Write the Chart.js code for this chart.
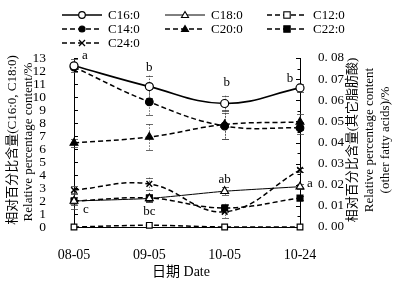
<!DOCTYPE html>
<html><head><meta charset="utf-8">
<script src="https://cdn.jsdelivr.net/npm/chart.js@4/dist/chart.umd.min.js"></script>
<style>
html,body{margin:0;padding:0;background:#fff;}
#wrap{position:relative;width:405px;height:285px;overflow:hidden;font-family:"Liberation Serif","Noto Sans CJK SC",serif;color:#000;}
#c{position:absolute;left:0;top:0;}
.lgi{position:absolute;height:14px;}
.lgi svg{position:absolute;left:0;top:0;}
.lgi span{position:absolute;top:-1px;font-size:13px;line-height:16px;white-space:nowrap;}
</style></head>
<body><div id="wrap"><canvas id="c" width="405" height="285"></canvas><div id="legend"></div></div>
<script>
// ---- data ----
const dates = ['08-05', '09-05', '10-05', '10-24'];
const c16 = [12.4, 10.8, 9.5, 10.7];
const c18 = [2.0, 2.2, 2.75, 3.1];
const c12 = [0.0, 0.0008, 0.0, 0.0];
const c14 = [0.0757, 0.0592, 0.0478, 0.0469];
const c20 = [0.0398, 0.0426, 0.0485, 0.0497];
const c22 = [0.0123, 0.0137, 0.0090, 0.0137];
const c24 = [0.0175, 0.0204, 0.0072, 0.0270];
// error amounts
const c16Err = [0.5, 0.85, 0.6, 0.3];
const c18Err = [0.3, 0.3, 0.3, 0.2];
const c12Err = [0, 0, 0, 0];
const c14Err = [0.001, 0.006, 0.006, 0.003];
const c20Err = [0.002, 0.006, 0.007, 0.004];
const c22Err = [0.004, 0.002, 0.002, 0.001];
const c24Err = [0.002, 0.003, 0.003, 0.001];
// significance letters
const c16Sig = ['a', 'b', 'b', 'b'];
const c18Sig = ['c', 'bc', 'ab', 'a'];
const leftTicks = [0, 1, 2, 3, 4, 5, 6, 7, 8, 9, 10, 11, 12, 13];
const rightTicks = [0, 0.01, 0.02, 0.03, 0.04, 0.05, 0.06, 0.07, 0.08];

// ---- styles (not data) ----
const sigOffC16 = [[11, -10], [0, -19], [2, -21], [-10, -9]];
const sigOffC18 = [[12, 9], [0, 13], [0, -12], [10, -3]];
const F = '"Liberation Serif","Noto Sans CJK SC",serif';

function ds(label, data, err, axis, o) {
  return Object.assign({
    label, data, err, yAxisID: axis,
    borderColor: '#000', backgroundColor: '#000',
    pointBorderColor: '#000', pointBorderWidth: 1.2,
    borderWidth: 1.5, tension: 0.4, clip: false, fill: false
  }, o);
}
const datasets = [
  ds('C16:0', c16, c16Err, 'y', {pointStyle: 'circle', pointRadius: 4, pointBackgroundColor: '#fff', borderWidth: 1.6}),
  ds('C18:0', c18, c18Err, 'y', {pointStyle: 'triangle', pointRadius: 4.5, pointBackgroundColor: '#fff', borderWidth: 1, tension: 0.2}),
  ds('C12:0', c12, c12Err, 'y1', {pointStyle: 'rect', pointRadius: 4, pointBackgroundColor: '#fff', borderDash: [5, 3]}),
  ds('C14:0', c14, c14Err, 'y1', {pointStyle: 'circle', pointRadius: 3.8, pointBackgroundColor: '#000', borderDash: [5, 3]}),
  ds('C20:0', c20, c20Err, 'y1', {pointStyle: 'triangle', pointRadius: 4.5, pointBackgroundColor: '#000', borderDash: [5, 3]}),
  ds('C22:0', c22, c22Err, 'y1', {pointStyle: 'rect', pointRadius: 4.2, pointBackgroundColor: '#000', borderDash: [5, 3]}),
  ds('C24:0', c24, c24Err, 'y1', {pointStyle: 'crossRot', pointRadius: 4, pointBorderWidth: 1.5, borderDash: [5, 3]})
];

const decor = {
  id: 'decor',
  beforeDatasetsDraw(chart) {
    const ctx = chart.ctx, xs = chart.scales.x;
    ctx.save();
    ctx.strokeStyle = '#444'; ctx.lineWidth = 0.8;
    chart.data.datasets.forEach(d => {
      const s = chart.scales[d.yAxisID];
      d.data.forEach((v, i) => {
        const e = d.err[i]; if (!e) return;
        const x = Math.round(xs.getPixelForValue(i)) + 0.5;
        const t = s.getPixelForValue(v + e), b = s.getPixelForValue(v - e);
        ctx.setLineDash([1.5, 1.5]);
        ctx.beginPath(); ctx.moveTo(x, t); ctx.lineTo(x, b); ctx.stroke();
        ctx.setLineDash([]);
        ctx.beginPath();
        ctx.moveTo(x - 3.5, Math.round(t) + 0.5); ctx.lineTo(x + 3.5, Math.round(t) + 0.5);
        ctx.moveTo(x - 3.5, Math.round(b) + 0.5); ctx.lineTo(x + 3.5, Math.round(b) + 0.5);
        ctx.stroke();
      });
    });
    // inward ticks
    const a = chart.chartArea, yl = chart.scales.y, yr = chart.scales.y1;
    ctx.strokeStyle = '#000'; ctx.lineWidth = 1;
    ctx.beginPath();
    leftTicks.forEach(v => { const y = Math.round(yl.getPixelForValue(v)) + 0.5; ctx.moveTo(a.left, y); ctx.lineTo(a.left + 4, y); });
    rightTicks.forEach((v, i) => {
      const y = Math.round(yr.getPixelForValue(v)) + 0.5; ctx.moveTo(a.right, y); ctx.lineTo(a.right - 4, y);
      if (i < rightTicks.length - 1) { const ym = Math.round(yr.getPixelForValue(v + 0.005)) + 0.5; ctx.moveTo(a.right, ym); ctx.lineTo(a.right - 2.5, ym); }
    });
    ctx.stroke();
    ctx.restore();
  },
  afterDraw(chart) {
    const ctx = chart.ctx, xs = chart.scales.x, yl = chart.scales.y;
    ctx.save();
    ctx.fillStyle = '#000';
    ctx.font = '13px ' + F;
    ctx.textAlign = 'center'; ctx.textBaseline = 'middle';
    c16Sig.forEach((t, i) => {
      ctx.fillText(t, xs.getPixelForValue(i) + sigOffC16[i][0], yl.getPixelForValue(c16[i]) + sigOffC16[i][1]);
    });
    c18Sig.forEach((t, i) => {
      ctx.fillText(t, xs.getPixelForValue(i) + sigOffC18[i][0], yl.getPixelForValue(c18[i]) + sigOffC18[i][1]);
    });
    // axis titles
    const vt = (txt, x, y, size) => {
      ctx.save(); ctx.translate(x, y); ctx.rotate(-Math.PI / 2);
      ctx.font = size + 'px ' + F; ctx.fillText(txt, 0, 0); ctx.restore();
    };
    vt('相对百分比含量(C16:0, C18:0)', 13, 140, 13);
    vt('Relative percentage content/%', 29, 142, 13);
    vt('相对百分比含量(其它脂肪酸)', 353, 140, 13);
    vt('Relative percentage content', 370, 140, 13);
    vt('(other fatty acids)/%', 386, 140, 13);
    ctx.font = '14px ' + F;
    ctx.fillText('日期 Date', 181, 272);
    ctx.restore();
  }
};

new Chart(document.getElementById('c'), {
  type: 'line',
  data: {labels: dates, datasets},
  options: {
    responsive: false, animation: false, devicePixelRatio: 1,
    layout: {padding: {top: 58, left: 0, right: 0, bottom: 0}},
    plugins: {legend: {display: false}, tooltip: {enabled: false}},
    scales: {
      x: {
        offset: false,
        grid: {display: false},
        border: {display: true, color: '#000', width: 1},
        ticks: {color: '#000', font: {family: F, size: 14}, padding: 12, maxRotation: 0, autoSkip: false},
        afterFit(s) { s.height = 58; }
      },
      y: {
        position: 'left', min: 0, max: 13,
        grid: {display: false},
        border: {display: true, color: '#000', width: 1},
        afterBuildTicks(s) { s.ticks = leftTicks.map(v => ({value: v})); },
        ticks: {color: '#000', font: {family: F, size: 13.5}, padding: 20, autoSkip: false},
        afterFit(s) { s.width = 74; }
      },
      y1: {
        position: 'right', min: 0, max: 0.08,
        grid: {display: false},
        border: {display: true, color: '#000', width: 1},
        afterBuildTicks(s) { s.ticks = rightTicks.map(v => ({value: v})); },
        ticks: {color: '#000', font: {family: F, size: 13}, padding: 10, autoSkip: false,
          callback: v => '0. ' + String(Math.round(v * 100)).padStart(2, '0')},
        afterFit(s) { s.width = 105; }
      }
    }
  },
  plugins: [decor]
});

// ---- HTML legend ----
const legendPos = [[62, 8], [165, 8], [267, 8], [62, 22], [165, 22], [267, 22], [62, 36]];
function markerSvg(d, cx, cy) {
  const fill = d.pointBackgroundColor === '#fff' ? '#fff' : '#000';
  switch (d.pointStyle) {
    case 'circle': return `<circle cx="${cx}" cy="${cy}" r="${d.label === 'C16:0' ? 3.3 : 3}" fill="${fill}" stroke="#000" stroke-width="1.2"/>`;
    case 'triangle': return `<polygon points="${cx},${cy - 3.5} ${cx + 3.5},${cy + 2.5} ${cx - 3.5},${cy + 2.5}" fill="${fill}" stroke="#000" stroke-width="1.1"/>`;
    case 'rect': return `<rect x="${cx - 3.2}" y="${cy - 3.2}" width="6.4" height="6.4" fill="${fill}" stroke="#000" stroke-width="1.1"/>`;
    default: return `<path d="M${cx - 3} ${cy - 3}L${cx + 3} ${cy + 3}M${cx + 3} ${cy - 3}L${cx - 3} ${cy + 3}" stroke="#000" stroke-width="1.3"/>`;
  }
}
const lg = document.getElementById('legend');
datasets.forEach((d, i) => {
  const [x, y] = legendPos[i];
  const dash = d.borderDash ? 'stroke-dasharray="5,3"' : '';
  const w = d.label === 'C18:0' ? 1 : 1.5;
  const el = document.createElement('div');
  el.className = 'lgi';
  el.style.left = x + 'px'; el.style.top = y + 'px';
  el.innerHTML = `<svg width="42" height="14"><line x1="0" y1="7" x2="40" y2="7" stroke="#000" stroke-width="${w}" ${dash}/>${markerSvg(d, 20, 7)}</svg><span style="left:46px">${d.label}</span>`;
  lg.appendChild(el);
});
</script>
</body></html>
